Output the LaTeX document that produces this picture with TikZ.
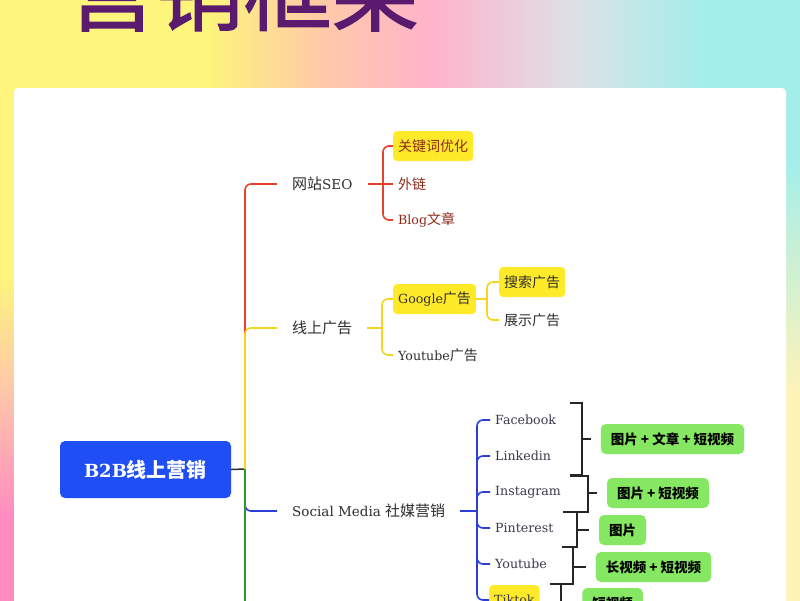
\documentclass[tikz,border=0pt]{standalone}
\usepackage{fontspec}
\setmainfont{DejaVu Serif}[Scale=0.9]
\newfontfamily\cjk{Noto Sans CJK SC}
\newfontfamily\cjktitle{Noto Sans CJK SC}[FakeBold=1.5]
\newcommand{\zh}[1]{{\cjk #1}}

\definecolor{bgyellow}{HTML}{FDF57C}
\definecolor{bgpeach}{HTML}{FFCAA8}
\definecolor{bgpink}{HTML}{FFB3CB}
\definecolor{bggrey}{HTML}{DDE1E6}
\definecolor{bgcyan}{HTML}{A3EEEB}
\definecolor{bgdeep}{HTML}{FF8CC0}
\definecolor{bglight}{HTML}{FFF3B8}
\definecolor{titlepurple}{HTML}{5A1B6E}
\definecolor{rootblue}{HTML}{1F4EF5}
\definecolor{linered}{HTML}{E8412C}
\definecolor{lineyellow}{HTML}{F7D51D}
\definecolor{lineblue}{HTML}{2B3FD6}
\definecolor{linegreen}{HTML}{2E9A2E}
\definecolor{markyellow}{HTML}{FFEA2A}
\definecolor{sumgreen}{HTML}{86E862}
\definecolor{txtdark}{HTML}{2E2E2E}
\definecolor{txtred}{HTML}{8C2B1B}
\definecolor{txtslate}{HTML}{3A3A4C}

\pgfdeclarehorizontalshading{topband}{100bp}{color(0bp)=(bgyellow); color(38bp)=(bgyellow);
  color(45bp)=(bgpeach); color(52bp)=(bgpink); color(61bp)=(bggrey); color(69bp)=(bgcyan);
  color(100bp)=(bgcyan)}
\pgfdeclareverticalshading{leftband}{100bp}{color(0bp)=(bgdeep); color(32bp)=(bgdeep);
  color(43bp)=(bgpeach); color(52bp)=(bgyellow); color(100bp)=(bgyellow)}
\pgfdeclareverticalshading{rightband}{100bp}{color(0bp)=(bglight); color(42bp)=(bglight);
  color(62bp)=(bgcyan); color(100bp)=(bgcyan)}

\begin{document}
\begin{tikzpicture}[x=1pt,y=-1pt]
  \tikzstyle{every node}=[font=\fontsize{14pt}{17pt}\selectfont, text=txtdark, inner xsep=5pt]
  \tikzstyle{titletxt}=[anchor=base, inner sep=0pt, text=titlepurple, font=\cjktitle\fontsize{88pt}{90pt}\selectfont]
  \tikzstyle{rootbox}=[fill=rootblue, rounded corners=5pt, minimum width=171pt, minimum height=57pt,
    text=white, font=\bfseries\fontsize{20pt}{24pt}\selectfont]
  \tikzstyle{topic}=[anchor=west, inner xsep=15pt, font=\fontsize{15pt}{18pt}\selectfont]
  \tikzstyle{leaf}=[anchor=west, minimum height=30pt]
  \tikzstyle{hilite}=[leaf, fill=markyellow, rounded corners=4pt]
  \tikzstyle{sumbox}=[fill=sumgreen, rounded corners=5pt, minimum height=30pt, inner xsep=10pt,
    outer xsep=10pt, text=black, font=\cjk\bfseries\fontsize{13.5pt}{16pt}\selectfont]
  \tikzstyle{rootline}=[draw=txtdark, line width=1.5pt]
  \tikzstyle{redline}=[draw=linered, line width=1.6pt, rounded corners=6pt]
  \tikzstyle{yellowline}=[draw=lineyellow, line width=1.6pt, rounded corners=6pt]
  \tikzstyle{blueline}=[draw=lineblue, line width=1.6pt, rounded corners=6pt]
  \tikzstyle{greenline}=[draw=linegreen, line width=1.6pt]
  \tikzstyle{sumline}=[draw=black!85, line width=1.3pt]
  %
  \useasboundingbox (0,0) rectangle (800,600);
  \clip (0,0) rectangle (800,600);
  % backdrop
  \shade[shading=topband] (0,0) rectangle (800,600);
  \shade[shading=leftband] (0,0) rectangle (14,600);
  \shade[shading=rightband] (786,0) rectangle (800,600);
  \fill[white, rounded corners=4pt] (14,88) rectangle (786,640);
  \node[titletxt] (title) at (243.5,24) {营销框架};
  %
  % root and main topics
  \node[rootbox] (root) at (145.5,469.5) {B2B\zh{线上营销}};
  \node[topic] (seo) at (277,184) {\zh{网站}SEO};
  \node[topic] (ads) at (277,328) {\zh{线上广告}};
  \node[topic] (sm) at (277,511) {Social Media \zh{社媒营销}};
  \coordinate (trunk) at (245,469);
  \coordinate (tail) at (245,640);
  \draw[rootline] (root.east) -- (trunk);
  \draw[redline] (trunk) |- (seo.west);
  \draw[yellowline] (trunk) |- (ads.west);
  \draw[blueline] (trunk) |- (sm.west);
  \draw[greenline] (trunk) -- (tail);
  %
  % website SEO
  \node[hilite, text=txtred] (kwd) at (393,146) {\zh{关键词优化}};
  \node[leaf, text=txtred] (wl) at (393,184) {\zh{外链}};
  \node[leaf, text=txtred] (blog) at (393,220) {Blog\zh{文章}};
  \coordinate (seobar) at (383,184);
  \draw[redline] (seo.east) -- (seobar) -- (wl.west);
  \draw[redline] (seobar) |- (kwd.west);
  \draw[redline] (seobar) |- (blog.west);
  %
  % online ads
  \node[hilite] (ggl) at (393,299) {Google\zh{广告}};
  \node[leaf] (ytb) at (393,355) {Youtube\zh{广告}};
  \node[hilite] (srch) at (499,282) {\zh{搜索广告}};
  \node[leaf] (show) at (499,320) {\zh{展示广告}};
  \coordinate (adsbar) at (382,328);
  \coordinate (gglbar) at (487,299);
  \draw[yellowline] (ads.east) -- (adsbar);
  \draw[yellowline] (adsbar) |- (ggl.west);
  \draw[yellowline] (adsbar) |- (ytb.west);
  \draw[yellowline] (ggl.east) -- (gglbar);
  \draw[yellowline] (gglbar) |- (srch.west);
  \draw[yellowline] (gglbar) |- (show.west);
  %
  % social media
  \node[leaf, text=txtslate] (fb) at (490,420) {Facebook};
  \node[leaf, text=txtslate] (li) at (490,456) {Linkedin};
  \node[leaf, text=txtslate] (ig) at (490,492) {Instagram};
  \node[leaf, text=txtslate] (pi) at (490,528) {Pinterest};
  \node[leaf, text=txtslate] (yt) at (490,564) {Youtube};
  \node[hilite, text=txtslate] (tk) at (489,600) {Tiktok};
  \coordinate (smbar) at (477,511);
  \draw[blueline] (sm.east) -- (smbar);
  \foreach \n in {fb,li,ig,pi,yt,tk}
    \draw[blueline] (smbar) |- (\n.west);
  %
  % content summaries
  \node[sumbox] (sumA) at (672.5,439) {图片 + 文章 + 短视频};
  \node[sumbox] (sumB) at (658,493) {图片 + 短视频};
  \node[sumbox] (sumC) at (622.5,530) {图片};
  \node[sumbox] (sumD) at (653.5,567) {长视频 + 短视频};
  \node[sumbox] (sumE) at (612.5,603) {短视频};
  \foreach \xl/\xv/\ya/\yb/\ym/\lab in {570/582/403/475/439/sumA, 570/588/476/512/493/sumB,
      563/577/512/547/530/sumC, 562/573/547/584/567/sumD, 550/561/584/640/603/sumE}
    \draw[sumline] (\xl,\ya) -- (\xv,\ya) -- (\xv,\yb) -- (\xl,\yb) (\xv,\ym) -- (\lab.west);
\end{tikzpicture}
\end{document}
